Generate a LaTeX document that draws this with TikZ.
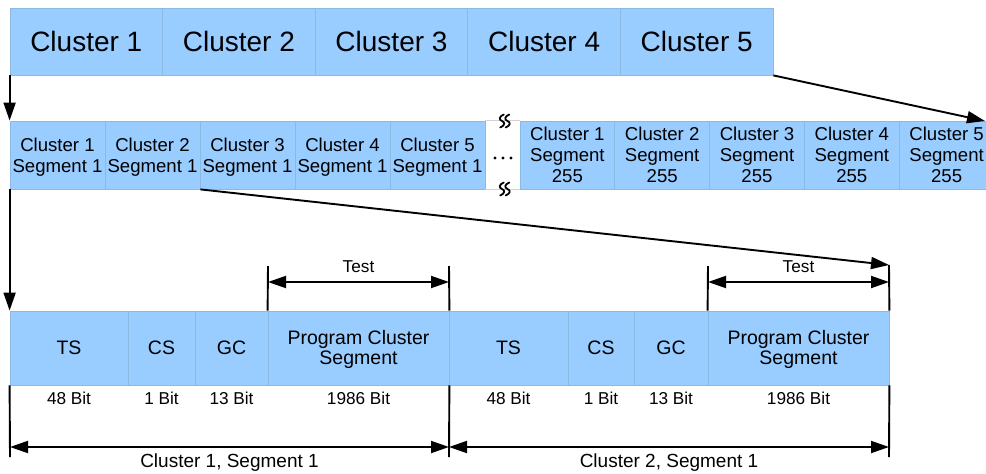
\documentclass[tikz,border=0pt]{standalone}
\usepackage{fontspec}
\setmainfont{Liberation Sans}
\usetikzlibrary{arrows.meta}
\definecolor{cellblue}{HTML}{99CCFF}
\definecolor{cellline}{HTML}{8CB8E4}
% strut that lowers two-line cell texts a little
\newcommand{\lowerby}[1]{\rule{0pt}{#1}}
\tikzset{
  cell/.style={fill=cellblue, draw=cellline, line width=0.8pt, inner sep=0pt, align=center},
  bigcell/.style={cell, minimum width=152.6pt, minimum height=67pt, font=\fontsize{28}{30}\selectfont},
  segcell/.style={cell, minimum width=95pt, minimum height=68pt, font=\fontsize{18.6}{21}\selectfont},
  fieldcell/.style={cell, minimum height=74pt, font=\fontsize{19.5}{19.5}\selectfont},
  bitlabel/.style={inner sep=0pt, font=\fontsize{17.2}{20}\selectfont},
  conn/.style={line width=1.9pt, black},
  tip/.style={conn, -{Triangle[length=18pt,width=12pt]}},
  both/.style={conn, {Triangle[length=18pt,width=12pt]}-{Triangle[length=18pt,width=12pt]}},
  breakmark/.style={line width=1.8pt, line cap=round},
}
\begin{document}
\begin{tikzpicture}[x=1pt, y=-1pt]
\useasboundingbox (0,0) rectangle (986,474);
\clip (0,0) rectangle (986,474);

% top row: whole clusters
\foreach \i/\cx in {1/86.3, 2/238.9, 3/391.5, 4/544.1, 5/696.7}
  \node[bigcell] (c\i) at (\cx,41.5) {Cluster \i};

% second row: first segments of each cluster
\foreach \i/\cx in {1/57.5, 2/152.5, 3/247.5, 4/342.5, 5/437.5}
  \node[segcell] (s\i) at (\cx,155) {\lowerby{17pt}Cluster \i\\Segment 1};

% second row: last segments of each cluster
\foreach \i/\cx in {1/567.4, 2/662.2, 3/757.0, 4/851.8, 5/946.6}
  \node[segcell, minimum width=94.8pt] (r\i) at (\cx,155) {Cluster \i\\Segment\\255};

% break between the two groups
\draw[gray!35, line width=0.6pt] (s5.north east) -- (r1.north west)
                                 (s5.south east) -- (r1.south west);
\foreach \y in {121, 189}
  \foreach \x in {502, 507.5}
    \draw[breakmark] (\x+1.8,\y-6.5) .. controls (\x-3.2,\y-4.5) and (\x-3.2,\y-1.2) .. (\x,\y)
                     .. controls (\x+3.2,\y+1.2) and (\x+3.2,\y+4.5) .. (\x-1.8,\y+6.5);
\foreach \x in {495, 503, 511}
  \fill (\x,158) circle (1.6pt);

% bottom row: fields of two segments
\node[fieldcell, minimum width=118pt] (ts1)  at (69,348)    {TS};
\node[fieldcell, minimum width=67pt]  (cs1)  at (161.5,348) {CS};
\node[fieldcell, minimum width=73pt]  (gc1)  at (231.5,348) {GC};
\node[fieldcell, minimum width=181pt] (pcs1) at (358.5,348) {\lowerby{17pt}Program Cluster\\Segment};
\node[fieldcell, minimum width=119pt] (ts2)  at (508.5,348) {TS};
\node[fieldcell, minimum width=66pt]  (cs2)  at (601,348)   {CS};
\node[fieldcell, minimum width=74pt]  (gc2)  at (671,348)   {GC};
\node[fieldcell, minimum width=181pt] (pcs2) at (798.5,348) {\lowerby{17pt}Program Cluster\\Segment};

% field sizes
\foreach \n/\t in {ts1/48 Bit, cs1/1 Bit, gc1/13 Bit, pcs1/1986 Bit,
                   ts2/48 Bit, cs2/1 Bit, gc2/13 Bit, pcs2/1986 Bit}
  \node[bitlabel] (b\n) at (\n.center |- 0,398.5) {\t};

% dimension line end points
\coordinate (t1L) at (268,266);
\coordinate (t1R) at (449,266);
\coordinate (t2L) at (708,266);
\coordinate (t2R) at (889,265);
\coordinate (e0)  at (10,457);
\coordinate (e1)  at (449,457);
\coordinate (e2)  at (889,457);
\coordinate (tipA) at (985,121);

% extension lines
\draw[conn] (t1L) -- (pcs1.north west);
\draw[conn] (t1R) -- (pcs1.north east);
\draw[conn] (t2L) -- (pcs2.north west);
\draw[conn] (t2R) -- (pcs2.north east);
\draw[conn] (ts1.south west) -- (e0);
\draw[conn] (pcs1.south east) -- (e1);
\draw[conn] (pcs2.south east) -- (e2);

% Test spans
\draw[both] (268,282) coordinate (a1L) -- (449,282) coordinate (a1R);
\draw[both] (708,282) coordinate (a2L) -- (889,282) coordinate (a2R);
\node[bitlabel] (test1) at (358.5,266.5) {Test};
\node[bitlabel] (test2) at (798.5,266.5) {Test};

% segment spans
\draw[both] (10,447) coordinate (d0) -- (449,447) coordinate (d1);
\draw[both] (449,447) -- (889,447) coordinate (d2);
\node[inner sep=0pt, font=\fontsize{19}{21}\selectfont] (lab1) at (229.5,462.5) {Cluster 1, Segment 1};
\node[inner sep=0pt, font=\fontsize{19}{21}\selectfont] (lab2) at (669,462.5) {Cluster 2, Segment 1};

% zoom arrows between the rows
\draw[tip] (c1.south west) -- (s1.north west);
\draw[tip] (c5.south east) -- (tipA);
\draw[tip] (s1.south west) -- (ts1.north west);
\draw[tip] (s2.south east) -- (t2R);
\end{tikzpicture}
\end{document}
